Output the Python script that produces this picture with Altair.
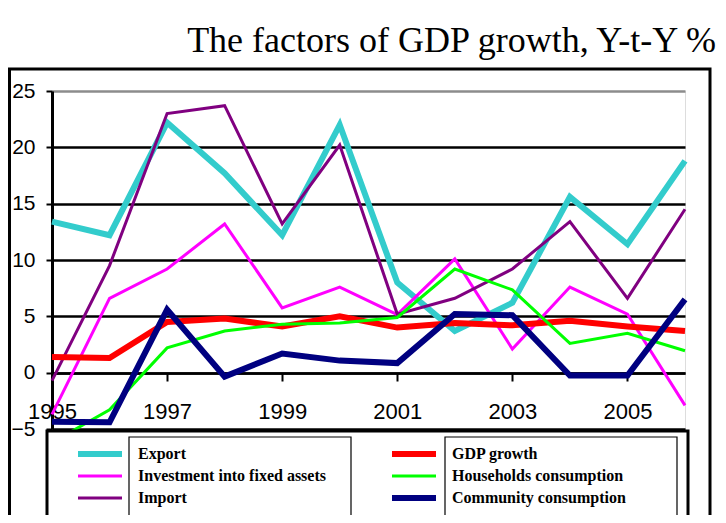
import altair as alt
import pandas as pd

years = [1995, 1996, 1997, 1998, 1999, 2000, 2001, 2002, 2003, 2004, 2005, 2006]
export_vals = [13.4, 12.2, 22.2, 17.7, 12.2, 22.0, 8.0, 3.7, 6.2, 15.6, 11.4, 18.8]
gdp_vals = [1.4, 1.3, 4.5, 4.8, 4.1, 5.0, 4.0, 4.4, 4.2, 4.6, 4.1, 3.7]
investment_vals = [-3.7, 6.6, 9.2, 13.2, 5.75, 7.6, 5.15, 10.1, 2.1, 7.6, 5.2, -2.9]
households_vals = [-6.2, -3.3, 2.2, 3.7, 4.3, 4.4, 4.9, 9.2, 7.35, 2.6, 3.5, 1.95]
import_vals = [-0.7, 9.5, 23.0, 23.7, 13.2, 20.2, 5.2, 6.6, 9.2, 13.4, 6.6, 14.5]
community_vals = [-4.35, -4.4, 5.6, -0.35, 1.7, 1.07, 0.85, 5.2, 5.1, -0.25, -0.25, 6.5]

# legend order (column-major: left column first)
series_names = ["Export", "Investment into fixed assets", "Import",
                "GDP growth", "Households consumption", "Community consumption"]
series_colors = ["#33CCCC", "#FF00FF", "#800080", "#FF0000", "#00FF00", "#000080"]
series_widths = [6, 3, 3, 6, 3, 6]
draw_order = ["Export", "Investment into fixed assets", "Import", "GDP growth",
              "Households consumption", "Community consumption"]
x_tick_years = [1995, 1997, 1999, 2001, 2003, 2005]
y_ticks = [-5, 0, 5, 10, 15, 20, 25]
title_text = "The factors of GDP growth, Y-t-Y %"

values = {
    "Export": export_vals,
    "GDP growth": gdp_vals,
    "Investment into fixed assets": investment_vals,
    "Households consumption": households_vals,
    "Import": import_vals,
    "Community consumption": community_vals,
}
rows = []
for name in series_names:
    for yr, v in zip(years, values[name]):
        rows.append({"year": yr, "value": v, "series": name})
df = pd.DataFrame(rows)

legend = alt.Legend(
    title=None, orient="none", legendX=40, legendY=355, columns=2,
    columnPadding=54, rowPadding=2, padding=0,
    symbolType="M-4.4,0H4.4", symbolSize=100, symbolOffset=0, labelOffset=30,
    labelFont="Liberation Serif", labelFontSize=16, labelFontWeight="bold",
    labelColor="black", labelLimit=400,
)

color = alt.Color("series:N", scale=alt.Scale(domain=series_names, range=series_colors),
                  legend=legend)
swidth = alt.StrokeWidth("series:N", scale=alt.Scale(type="ordinal", domain=series_names,
                                                     range=series_widths),
                         legend=legend)

x_enc = alt.X("year:Q", scale=alt.Scale(domain=[1995, 2006], nice=False, zero=False),
              axis=alt.Axis(title=None, values=x_tick_years, format="d", offset=-56,
                            domainColor="black", domainWidth=2.5, tickColor="black",
                            tickWidth=2, tickSize=8, labelPadding=20, grid=False,
                            labelFont="Liberation Sans", labelFontSize=22,
                            labelColor="black", labelFlush=False))
y_enc = alt.Y("value:Q", scale=alt.Scale(domain=[-5, 25], nice=False, zero=False),
              axis=alt.Axis(title=None, values=y_ticks, domainColor="black", domainWidth=3,
                            tickColor="black", tickWidth=2, tickSize=6, labelPadding=11,
                            labelFont="Liberation Sans", labelFontSize=21,
                            labelColor="black", grid=True, gridWidth=2.5,
                            gridColor={"condition": {"test": "datum.value >= 25",
                                                     "value": "#8c8c8c"},
                                       "value": "black"}))

base = alt.Chart(df)
line_layers = []
for name in draw_order:
    line_layers.append(
        base.transform_filter(alt.datum.series == name)
        .mark_line(clip=False)
        .encode(x=x_enc, y=y_enc, color=color, strokeWidth=swidth)
    )

deco = alt.Chart(pd.DataFrame({"k": [0]}))
outer_frame = deco.mark_rect(fill=None, stroke="black", strokeWidth=3).encode(
    x=alt.value(-42.5), x2=alt.value(658), y=alt.value(-22), y2=alt.value(460))
legend_box = deco.mark_rect(fill="white", stroke="black", strokeWidth=3).encode(
    x=alt.value(-5), x2=alt.value(636), y=alt.value(340), y2=alt.value(460))
inner_box1 = deco.mark_rect(fill="white", stroke="black", strokeWidth=1.2).encode(
    x=alt.value(77), x2=alt.value(299), y=alt.value(346), y2=alt.value(460))
inner_box2 = deco.mark_rect(fill="white", stroke="black", strokeWidth=1.2).encode(
    x=alt.value(393), x2=alt.value(625), y=alt.value(346), y2=alt.value(460))

chart = alt.layer(*line_layers, outer_frame, legend_box, inner_box1, inner_box2).properties(
    width=633, height=338,
    padding={"left": 44, "top": 83, "right": 33, "bottom": 86},
    autosize=alt.AutoSizeParams(type="none"),
    title=alt.TitleParams(title_text, font="Liberation Serif", fontSize=36,
                          fontWeight="normal", color="black", anchor="end",
                          frame="group", dx=31, dy=50, baseline="alphabetic", offset=30),
).configure_view(stroke="#8c8c8c", strokeWidth=3).configure(background="white")

chart.save("out.html", embed_options={"renderer": "svg", "actions": False})
